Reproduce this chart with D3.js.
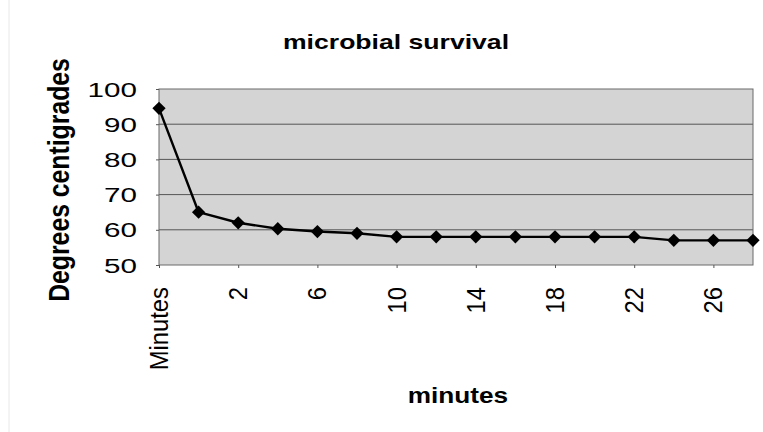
<!DOCTYPE html>
<html>
<head>
<meta charset="utf-8">
<script src="https://cdn.jsdelivr.net/npm/d3@7"></script>
<style>
  html, body { margin: 0; padding: 0; background: #fff; }
  svg { display: block; }
  text { font-family: "Liberation Sans", Arial, sans-serif; fill: #000; }
</style>
</head>
<body>
<svg id="chart" width="763" height="432"></svg>
<script>
// Category labels along the x axis (first slot is the column header)
const categories = ["Minutes", "0", "2", "4", "6", "8", "10", "12", "14", "16", "18", "20", "22", "24", "26", "28"];
// Temperature readings, degrees centigrade
const temperatures = [94.5, 65, 62, 60.3, 59.5, 59, 58, 58, 58, 58, 58, 58, 58, 57, 57, 57];
// Axis tick values / labels
const yTicks = [50, 60, 70, 80, 90, 100];
const xTickLabels = ["Minutes", "2", "6", "10", "14", "18", "22", "26"];
const chartTitle = "microbial survival";
const xTitle = "minutes";
const yTitle = "Degrees centigrades";

const svg = d3.select("#chart");
const plot = { left: 159, right: 753, top: 89, bottom: 265 };

const x = d3.scalePoint().domain(categories).range([plot.left, plot.right]).padding(0);
const y = d3.scaleLinear().domain([50, 100]).range([plot.bottom, plot.top]);

// faint frame line at the far left
svg.append("line").attr("x1", 9).attr("x2", 9).attr("y1", 0).attr("y2", 432)
  .attr("stroke", "#e8e8e8").attr("stroke-width", 1);

// plot area background
svg.append("rect")
  .attr("x", plot.left).attr("y", plot.top)
  .attr("width", plot.right - plot.left).attr("height", plot.bottom - plot.top)
  .attr("fill", "#d4d4d4");

// horizontal gridlines
svg.append("g")
  .selectAll("line")
  .data(yTicks.filter(v => v > 50 && v < 100))
  .join("line")
  .attr("x1", plot.left).attr("x2", plot.right)
  .attr("y1", d => y(d)).attr("y2", d => y(d))
  .attr("stroke", "#555").attr("stroke-width", 1);

// plot border
svg.append("rect")
  .attr("x", plot.left).attr("y", plot.top)
  .attr("width", plot.right - plot.left).attr("height", plot.bottom - plot.top)
  .attr("fill", "none").attr("stroke", "#6a6a6a").attr("stroke-width", 1);

// y axis ticks and labels (wide lettering)
const yAxis = svg.append("g")
  .attr("transform", `translate(${plot.left},0)`)
  .call(d3.axisLeft(y).tickValues(yTicks).tickSize(3).tickSizeOuter(0).tickFormat(d3.format("d")));
yAxis.select(".domain").remove();
yAxis.selectAll(".tick line").attr("stroke", "#555");
yAxis.selectAll(".tick text")
  .attr("x", null).attr("dy", null)
  .attr("font-size", 20)
  .attr("text-anchor", "end")
  .attr("dominant-baseline", "central")
  .attr("transform", "translate(-22,0) scale(1.48,1)");

// x axis ticks and rotated labels
const xAxis = svg.append("g")
  .attr("transform", `translate(0,${plot.bottom})`)
  .call(d3.axisBottom(x)
    .tickValues(categories.filter((c, i) => xTickLabels.includes(c) && i % 2 === 0))
    .tickSize(3).tickSizeOuter(0));
xAxis.select(".domain").remove();
xAxis.selectAll(".tick line").attr("stroke", "#555");
xAxis.selectAll(".tick text")
  .attr("y", null).attr("dy", null)
  .attr("font-size", 20)
  .attr("text-anchor", "end")
  .attr("dominant-baseline", "central")
  .attr("transform", "translate(-1,22) scale(1.33,1.19) rotate(-90)");

// data line
const line = d3.line()
  .x((d, i) => x(categories[i]))
  .y(d => y(d));
svg.append("path")
  .datum(temperatures)
  .attr("d", line)
  .attr("fill", "none")
  .attr("stroke", "#000")
  .attr("stroke-width", 2.4)
  .attr("stroke-linejoin", "round");

// diamond markers
const diamond = d3.symbol().type(d3.symbolSquare).size(88);
svg.append("g")
  .selectAll("path")
  .data(temperatures)
  .join("path")
  .attr("d", diamond)
  .attr("transform", (d, i) => `translate(${x(categories[i])},${y(d)}) rotate(45)`)
  .attr("fill", "#000");

// chart title
svg.append("text")
  .attr("font-size", 20).attr("font-weight", "bold")
  .attr("text-anchor", "middle")
  .attr("transform", "translate(396,49) scale(1.33,1)")
  .text(chartTitle);

// x axis title
svg.append("text")
  .attr("font-size", 22).attr("font-weight", "bold")
  .attr("text-anchor", "middle")
  .attr("transform", "translate(458,403) scale(1.19,1)")
  .text(xTitle);

// y axis title
svg.append("text")
  .attr("font-size", 21).attr("font-weight", "bold")
  .attr("text-anchor", "middle")
  .attr("transform", "translate(69,180) scale(1.43,1.18) rotate(-90)")
  .text(yTitle);
</script>
</body>
</html>
